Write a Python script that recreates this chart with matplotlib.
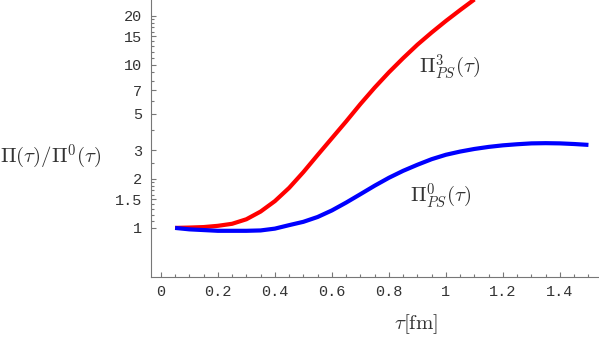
import numpy as np
import matplotlib
matplotlib.use('Agg')
import matplotlib.pyplot as plt
from matplotlib.ticker import FixedLocator, FixedFormatter, NullFormatter

plt.rcParams['mathtext.fontset'] = 'cm'

# data
tau = [0.05, 0.10, 0.15, 0.20, 0.25, 0.30, 0.35, 0.40, 0.45, 0.50,
       0.55, 0.60, 0.65, 0.70, 0.75, 0.80, 0.85, 0.90, 0.95, 1.00,
       1.05, 1.10, 1.15, 1.20, 1.25, 1.30, 1.35, 1.40, 1.45, 1.50]
pi3_ps = [1.00, 1.005, 1.012, 1.03, 1.06, 1.13, 1.26, 1.46, 1.76, 2.2,
          2.8, 3.55, 4.5, 5.75, 7.25, 9.0, 11.0, 13.3, 15.8, 18.6,
          21.7, 25.2]
pi0_ps = [1.00, 0.98, 0.97, 0.96, 0.96, 0.96, 0.965, 0.99, 1.04, 1.09,
          1.167, 1.28, 1.43, 1.61, 1.815, 2.03, 2.24, 2.44, 2.64, 2.81,
          2.94, 3.05, 3.14, 3.21, 3.26, 3.30, 3.31, 3.30, 3.27, 3.23]

yticks = [1, 1.5, 2, 3, 5, 7, 10, 15, 20]
ytick_labels = ['1', '1.5', '2', '3', '5', '7', '10', '15', '20']
yminor = [1.1, 1.2, 1.3, 1.4, 1.6, 1.7, 1.8, 1.9, 2.5, 4, 6, 8, 9,
          11, 12, 13, 14, 16, 17, 18, 19]
xticks = [0, 0.2, 0.4, 0.6, 0.8, 1.0, 1.2, 1.4]
xtick_labels = ['0', '0.2', '0.4', '0.6', '0.8', '1', '1.2', '1.4']

fig = plt.figure(figsize=(5.99, 3.41), dpi=100)
ax = fig.add_axes([0.2514, 0.1877, 0.7486, 0.8123])

ax.plot(tau[:len(pi3_ps)], pi3_ps, color='#ff0000', lw=3, solid_capstyle='butt')
ax.plot(tau, pi0_ps, color='#0000ff', lw=3, solid_capstyle='butt')

ax.set_yscale('log')
ax.set_ylim(0.5, 25)
ax.set_xlim(-0.036, 1.537)

ax.yaxis.set_major_locator(FixedLocator(yticks))
ax.yaxis.set_major_formatter(FixedFormatter(ytick_labels))
ax.yaxis.set_minor_locator(FixedLocator(yminor))
ax.yaxis.set_minor_formatter(NullFormatter())
ax.xaxis.set_major_locator(FixedLocator(xticks))
ax.xaxis.set_major_formatter(FixedFormatter(xtick_labels))
ax.xaxis.set_minor_locator(FixedLocator(np.arange(0.05, 1.55, 0.05)))

for s in ['top', 'right']:
    ax.spines[s].set_visible(False)
for s in ['left', 'bottom']:
    ax.spines[s].set_color('#777777')
    ax.spines[s].set_linewidth(0.8)

ax.tick_params(which='both', direction='in', color='#777777', width=0.8,
               labelcolor='#333333', labelsize=11, pad=6)
ax.tick_params(which='major', length=3.5)
ax.tick_params(which='minor', length=2)
for lab in ax.get_xticklabels() + ax.get_yticklabels():
    lab.set_family('Liberation Mono')

fig.text(0.0, 0.54, r'$\Pi(\tau)/\Pi^0(\tau)$', fontsize=15, color='#333333',
         ha='left', va='center')
fig.text(0.695, 0.05, r'$\tau[\mathrm{fm}]$', fontsize=15, color='#333333',
         ha='center', va='center')
fig.text(0.70, 0.805, r'$\Pi^3_{PS}(\tau)$', fontsize=15, color='#333333',
         ha='left', va='center')
fig.text(0.685, 0.425, r'$\Pi^0_{PS}(\tau)$', fontsize=15, color='#333333',
         ha='left', va='center')

fig.savefig('out.png', dpi=100)
